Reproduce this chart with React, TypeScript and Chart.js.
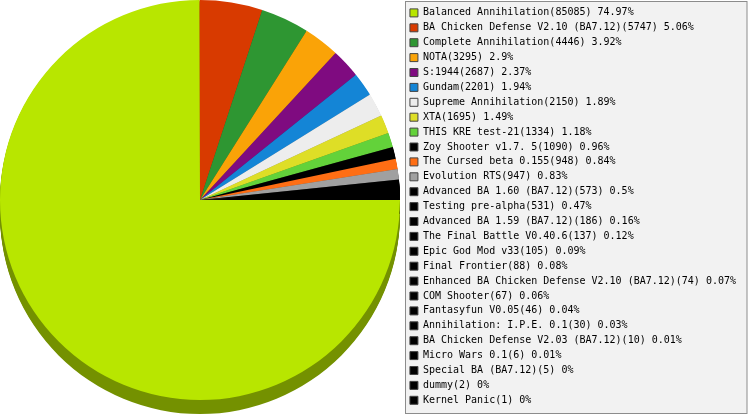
import { useEffect, useRef } from "react";
import { Chart, ArcElement, PieController, Legend } from "chart.js";

Chart.register(ArcElement, PieController, Legend);

// games played, with the number of games and their share as printed in the legend
const games = [
  "Balanced Annihilation",
  "BA Chicken Defense V2.10 (BA7.12)",
  "Complete Annihilation",
  "NOTA",
  "S:1944",
  "Gundam",
  "Supreme Annihilation",
  "XTA",
  "THIS KRE test-21",
  "Zoy Shooter v1.7. 5",
  "The Cursed beta 0.155",
  "Evolution RTS",
  "Advanced BA 1.60 (BA7.12)",
  "Testing pre-alpha",
  "Advanced BA 1.59 (BA7.12)",
  "The Final Battle V0.40.6",
  "Epic God Mod v33",
  "Final Frontier",
  "Enhanced BA Chicken Defense V2.10 (BA7.12)",
  "COM Shooter",
  "Fantasyfun V0.05",
  "Annihilation: I.P.E. 0.1",
  "BA Chicken Defense V2.03 (BA7.12)",
  "Micro Wars 0.1",
  "Special BA (BA7.12)",
  "dummy",
  "Kernel Panic",
];
const counts = [
  85085, 5747, 4446, 3295, 2687, 2201, 2150, 1695, 1334, 1090, 948, 947, 573,
  531, 186, 137, 105, 88, 74, 67, 46, 30, 10, 6, 5, 2, 1,
];
const shares = [
  "74.97", "5.06", "3.92", "2.9", "2.37", "1.94", "1.89", "1.49", "1.18",
  "0.96", "0.84", "0.83", "0.5", "0.47", "0.16", "0.12", "0.09", "0.08",
  "0.07", "0.06", "0.04", "0.03", "0.01", "0.01", "0", "0", "0",
];
const colors = [
  "#b8e600", "#d83a00", "#2e9632", "#faa307", "#7f0b80", "#1485d6",
  "#ededed", "#dede26", "#63d23a", "#000000", "#ff6e14", "#a0a0a0",
  "#000000", "#000000", "#000000", "#000000", "#000000", "#000000",
  "#000000", "#000000", "#000000", "#000000", "#000000", "#000000",
  "#000000", "#000000", "#000000",
];

const DEPTH = 14; // height of the 3d edge under the pie
const TOP_PAD = 3;

function shade(hex: string, f: number) {
  const n = parseInt(hex.slice(1), 16);
  const r = Math.round(((n >> 16) & 255) * f);
  const g = Math.round(((n >> 8) & 255) * f);
  const b = Math.round((n & 255) * f);
  return `rgb(${r},${g},${b})`;
}

const pie3d = {
  id: "pie3d",
  afterLayout(chart: any) {
    // leave room under the pie for its edge, keep the area square
    const a = chart.chartArea;
    a.top -= TOP_PAD;
    a.bottom -= DEPTH + 1;
    a.height = a.bottom - a.top;
    a.right = Math.min(a.right, a.left + a.height);
    a.width = a.right - a.left;
  },
  beforeDraw(chart: any) {
    const { ctx, legend } = chart;
    const x0 = Math.round(legend.left) + 0.5;
    ctx.save();
    ctx.fillStyle = "#f2f2f2";
    ctx.strokeStyle = "#8c8c8c";
    ctx.lineWidth = 1;
    ctx.fillRect(x0, 1.5, chart.width - 2 - x0, chart.height - 3);
    ctx.strokeRect(x0, 1.5, chart.width - 2 - x0, chart.height - 3);
    ctx.restore();
  },
  beforeDatasetsDraw(chart: any) {
    const { ctx } = chart;
    const meta = chart.getDatasetMeta(0);
    ctx.save();
    meta.data.forEach((arc: any, i: number) => {
      const { x, y, startAngle, endAngle, outerRadius } = arc.getProps(
        ["x", "y", "startAngle", "endAngle", "outerRadius"],
        true
      );
      ctx.fillStyle = shade(colors[i], 0.63);
      for (let d = 1; d <= DEPTH; d++) {
        ctx.beginPath();
        ctx.moveTo(x, y + d);
        ctx.arc(x, y + d, outerRadius, startAngle, endAngle);
        ctx.closePath();
        ctx.fill();
      }
    });
    ctx.restore();
  },
};

export default function App() {
  const canvasRef = useRef<HTMLCanvasElement | null>(null);

  useEffect(() => {
    if (!canvasRef.current) return;

    const chart = new Chart(canvasRef.current, {
      type: "pie",
      data: {
        labels: games,
        datasets: [
          {
            data: counts,
            backgroundColor: colors,
            borderWidth: 0,
          },
        ],
      },
      options: {
        responsive: false,
        animation: false,
        rotation: 90,
        layout: { padding: { top: TOP_PAD, right: 3, left: 0, bottom: 0 } },
        plugins: {
          tooltip: { enabled: false },
          legend: {
            position: "right",
            align: "start",
            labels: {
              boxWidth: 8,
              boxHeight: 8,
              padding: 4.9,
              color: "#000",
              font: { family: "'DejaVu Sans Mono', monospace", size: 10 },
              generateLabels: () =>
                games.map((g, i) => ({
                  text: `${g}(${counts[i]}) ${shares[i]}%`,
                  fillStyle: colors[i],
                  strokeStyle: "#444",
                  lineWidth: 1,
                  fontColor: "#000",
                  hidden: false,
                  index: i,
                })),
            },
          },
        },
      },
      plugins: [pie3d],
    });

    return () => {
      chart.destroy();
    };
  }, []);

  return (
    <div style={{ position: "fixed", left: 0, top: 0, width: 749, height: 415 }}>
      <canvas ref={canvasRef} width={749} height={415}></canvas>
    </div>
  );
}
